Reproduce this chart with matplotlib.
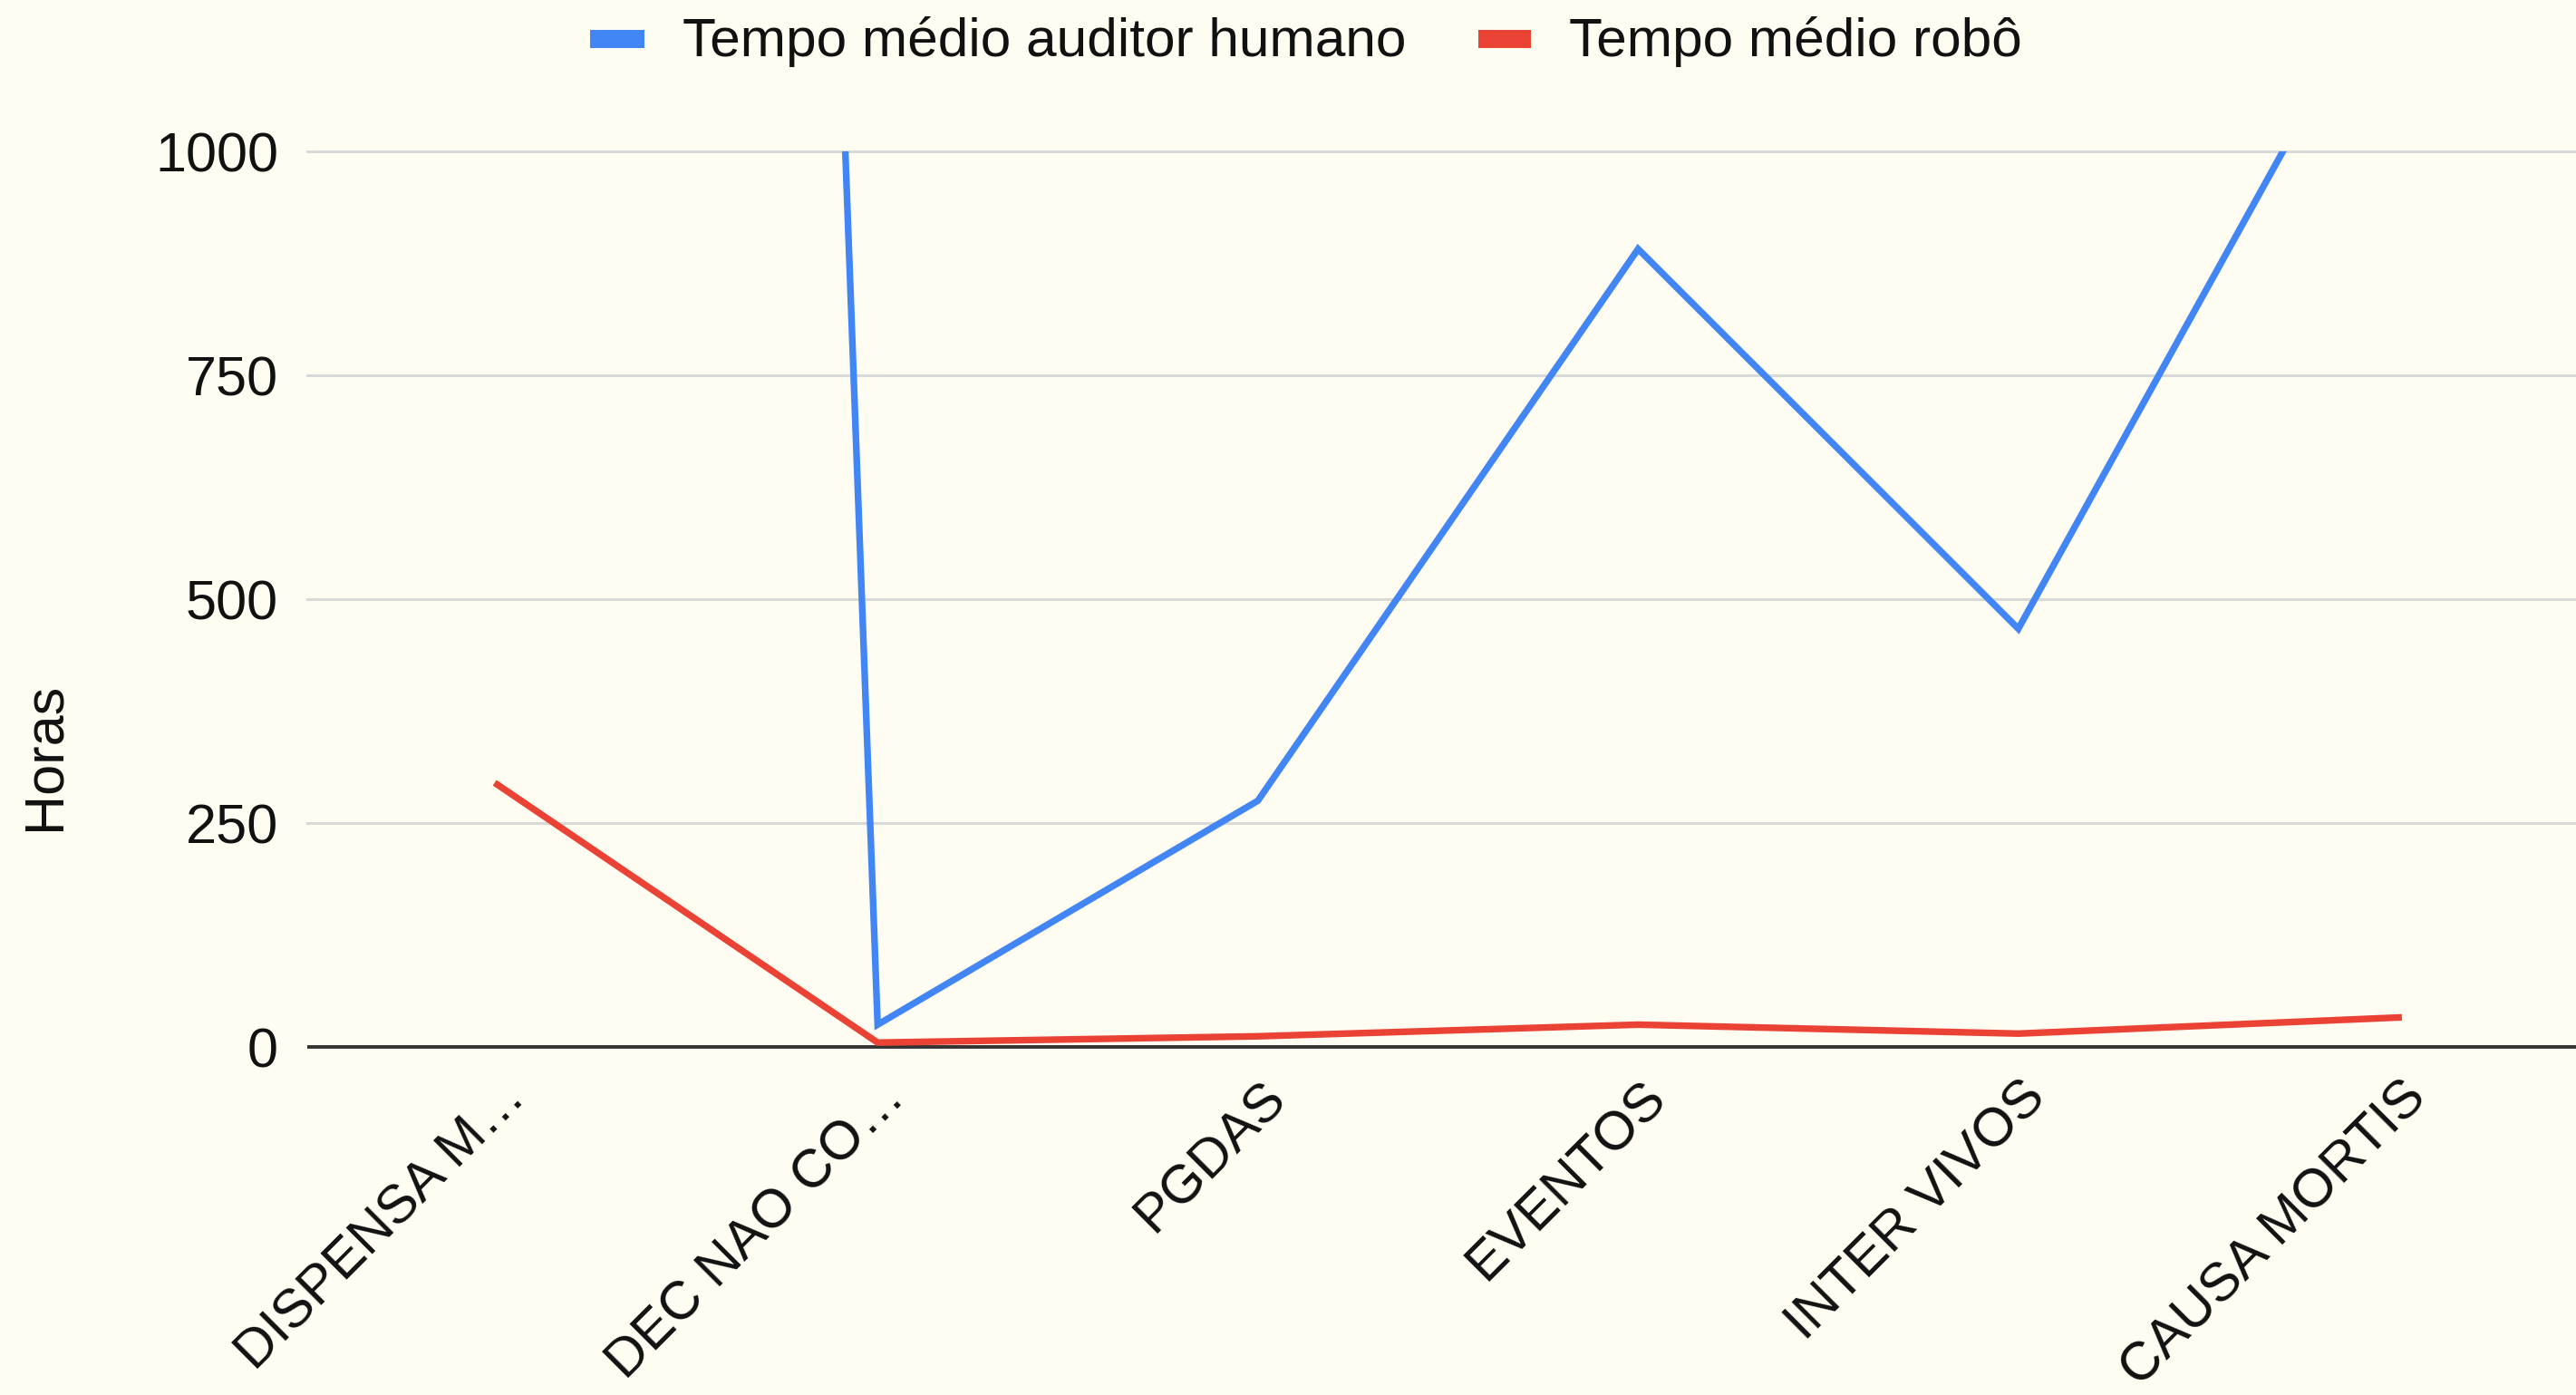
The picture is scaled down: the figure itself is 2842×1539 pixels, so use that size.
import matplotlib
matplotlib.use("Agg")
import matplotlib.pyplot as plt
from matplotlib.patches import Rectangle
from matplotlib.transforms import ScaledTranslation

categories = ["DISPENSA M…", "DEC NAO CO…", "PGDAS", "EVENTOS", "INTER VIVOS", "CAUSA MORTIS"]
humano = [11500, 25, 275, 891, 467, 1233]
robo = [293, 5, 12, 25, 15, 33]
yticks = [0, 250, 500, 750, 1000]
series_names = ["Tempo médio auditor humano", "Tempo médio robô"]

BG = "#FFFDF2"
BLUE = "#4285F4"
RED = "#EA4335"
FONT = "Liberation Sans"

W, H = 2842, 1539
fig = plt.figure(figsize=(W / 100, H / 100), dpi=100, facecolor=BG)
plt.rcParams["font.family"] = [FONT, "DejaVu Sans"]

left = 339 / W
width = 2517 / W
bottom = 1 - 1165 / H
top = 1 - 167 / H
ax = fig.add_axes([left, bottom, width, top - bottom])
ax.set_facecolor(BG)

x = list(range(len(categories)))
ax.plot(x, humano, color=BLUE, lw=5.3, solid_joinstyle="miter", zorder=3)
ax.plot(x, robo, color=RED, lw=5.3, solid_joinstyle="miter", zorder=4)

ax.set_xlim(-0.5, len(categories) - 0.5)
ax.set_ylim(-10, 1000)

for v in yticks[1:]:
    ax.axhline(v, color="#D9D9D9", lw=2.2, zorder=1, clip_on=False)
ax.axhline(0, color="#333333", lw=2.8, zorder=2)

for s in ax.spines.values():
    s.set_visible(False)

ax.set_yticks(yticks)
ax.set_yticklabels([str(v) for v in yticks], fontsize=44, color="#111111")
ax.tick_params(axis="y", length=0, pad=23)

ax.set_xticks(x)
ax.set_xticklabels(categories, fontsize=43, color="#111111", rotation=45,
                   ha="right", va="center", rotation_mode="anchor")
ax.tick_params(axis="x", length=0, pad=27)
off = ScaledTranslation(0.22, 0, fig.dpi_scale_trans)
for lab in ax.get_xticklabels():
    lab.set_transform(lab.get_transform() + off)

fig.text(50 / W, 1 - 834 / H, "Horas", rotation=90, ha="center", va="center",
         fontsize=44, color="#111111")

# legend
for (x0, x1, tx), name, col in zip([(651, 711, 753), (1631, 1689, 1731)], series_names, [BLUE, RED]):
    fig.patches.append(Rectangle((x0 / W, 1 - 53 / H), (x1 - x0) / W, 20 / H,
                                 transform=fig.transFigure, facecolor=col, edgecolor="none"))
    fig.text(tx / W, 1 - 62 / H, name, ha="left", va="baseline", fontsize=43.5, color="#111111")

fig.savefig("out.png", dpi=100, facecolor=BG)
